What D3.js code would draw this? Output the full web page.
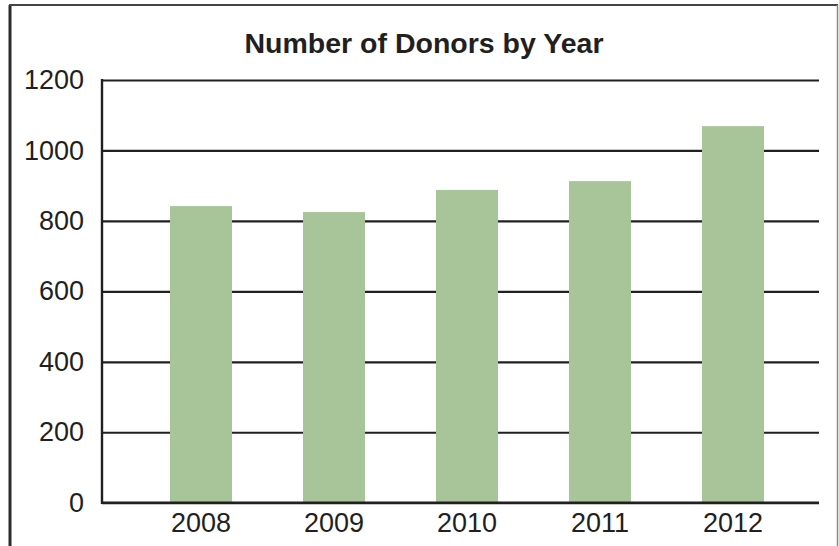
<!DOCTYPE html>
<html lang="en">
<head>
    <meta charset="UTF-8">
    <title>Number of Donors by Year</title>
    <script src="https://d3js.org/d3.v7.min.js"></script>
    <style>
        body {
            margin: 0;
            background: white;
        }

        #chart text {
            font-family: "Liberation Sans", Arial, sans-serif;
            fill: #231f20;
        }
    </style>
</head>
<body>
    <svg id="chart" width="839" height="546"></svg>
    <script>
        const years = ['2008', '2009', '2010', '2011', '2012'];
        const donors = [842, 825, 888, 913, 1069];
        const yTicks = [0, 200, 400, 600, 800, 1000, 1200];

        const svg = d3.select('#chart');
        const plotLeft = 102;
        const plotRight = 819;
        const plotTop = 80;
        const plotBottom = 502.7;

        // frame around the chart
        svg.append('line')
            .attr('x1', 10).attr('y1', 5).attr('x2', 10).attr('y2', 546)
            .attr('stroke', '#2b2b2b').attr('stroke-width', 3);
        svg.append('line')
            .attr('x1', 9).attr('y1', 5).attr('x2', 838).attr('y2', 5)
            .attr('stroke', '#444').attr('stroke-width', 2);
        svg.append('line')
            .attr('x1', 837.5).attr('y1', 5).attr('x2', 837.5).attr('y2', 546)
            .attr('stroke', '#888').attr('stroke-width', 1.5);

        svg.append('text')
            .attr('x', 424)
            .attr('y', 52.5)
            .attr('text-anchor', 'middle')
            .style('font-size', '28.5px')
            .style('font-weight', 'bold')
            .text('Number of Donors by Year');

        const x = d3.scaleBand()
            .domain(years)
            .range([134.5, 799.5])
            .paddingInner(0.534)
            .paddingOuter(0.267);

        const y = d3.scaleLinear()
            .domain([0, 1200])
            .range([plotBottom, plotTop]);

        // gridlines + y labels
        const yAxis = svg.append('g')
            .attr('transform', `translate(${plotLeft},0)`)
            .call(d3.axisLeft(y)
                .tickValues(yTicks)
                .tickFormat(d3.format('d'))
                .tickSizeInner(-(plotRight - plotLeft))
                .tickSizeOuter(0)
                .tickPadding(18));
        yAxis.select('.domain').remove();
        yAxis.selectAll('line')
            .attr('stroke', '#231f20')
            .attr('stroke-width', 2.2);
        yAxis.selectAll('text')
            .style('font-size', '27px');

        svg.append('g')
            .selectAll('rect')
            .data(donors)
            .enter()
            .append('rect')
            .attr('x', (d, i) => x(years[i]))
            .attr('y', d => y(d))
            .attr('width', x.bandwidth())
            .attr('height', d => y(0) - y(d))
            .attr('fill', '#a8c499');

        // baseline and y axis line
        svg.append('line')
            .attr('x1', plotLeft).attr('y1', y(0)).attr('x2', plotRight).attr('y2', y(0))
            .attr('stroke', '#231f20').attr('stroke-width', 2.4);
        svg.append('line')
            .attr('x1', plotLeft).attr('y1', plotTop - 1.1).attr('x2', plotLeft).attr('y2', y(0) + 1.2)
            .attr('stroke', '#231f20').attr('stroke-width', 2.4);

        const xAxis = svg.append('g')
            .attr('transform', `translate(0,${plotBottom})`)
            .call(d3.axisBottom(x)
                .tickSize(0)
                .tickPadding(10));
        xAxis.select('.domain').remove();
        xAxis.selectAll('text')
            .style('font-size', '27px');
    </script>
</body>
</html>
